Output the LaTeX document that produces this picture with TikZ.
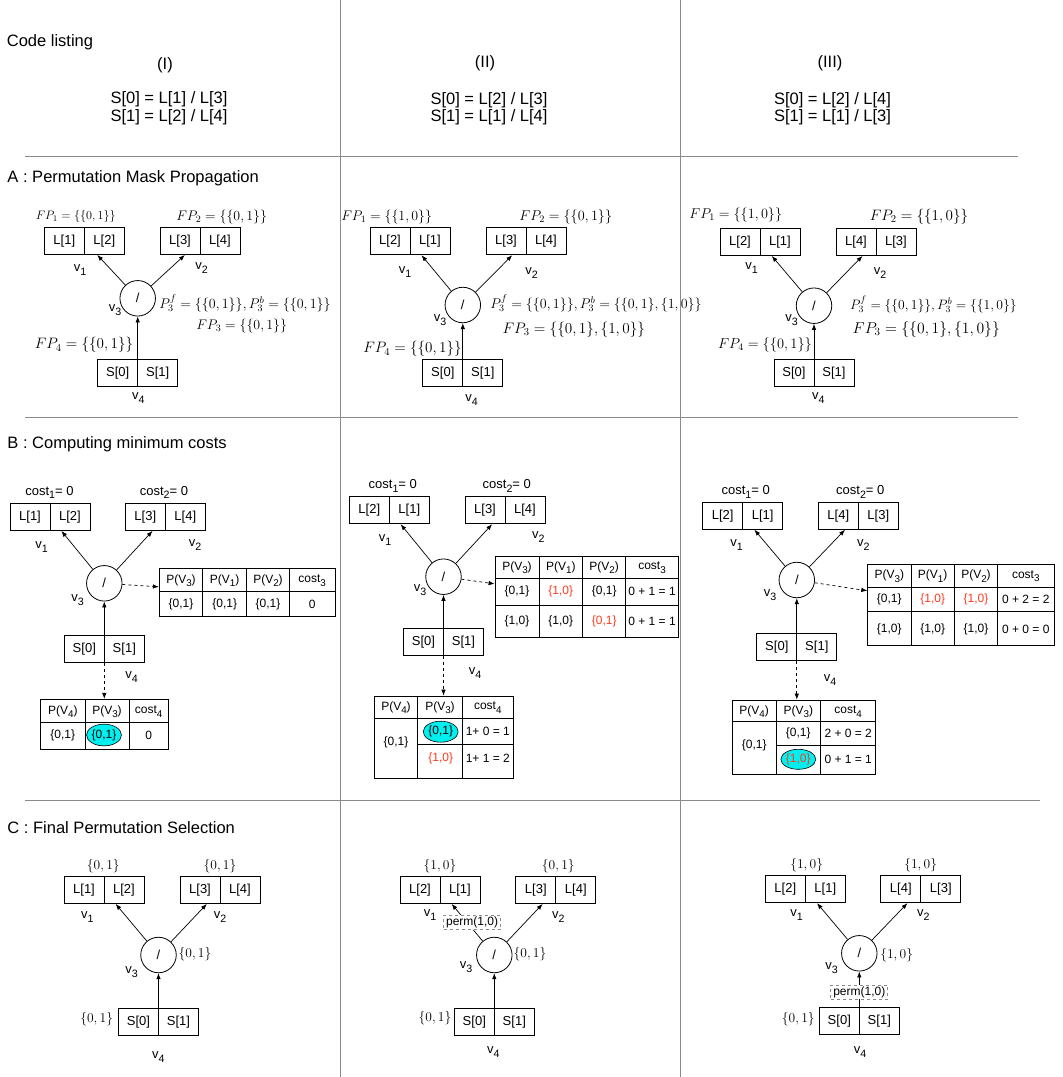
\documentclass[tikz,border=0pt]{standalone}
\usepackage{fix-cm}
\usepackage[no-math]{fontspec}
\setmainfont{Liberation Sans}
\usetikzlibrary{arrows.meta,shapes.geometric}
\definecolor{FrameGray}{HTML}{8A8A8A}
\definecolor{MarkRed}{HTML}{FF3B1F}
\definecolor{PickCyan}{HTML}{00F0F0}
\newcommand{\pair}[2]{\makebox[40pt]{#1}\makebox[40pt]{#2}}
\newcommand{\flip}[1]{\textcolor{MarkRed}{#1}}
\newcommand{\low}[1]{\raisebox{-0.3em}{\scalebox{0.82}{#1}}}
\tikzset{
  rule/.style={FrameGray,line width=0.9pt},
  regbox/.style={draw,line width=0.8pt,inner sep=0pt,minimum height=27pt,
    font=\fontsize{13}{15}\selectfont,
    path picture={\draw[line width=0.8pt] (path picture bounding box.north) -- (path picture bounding box.south);}},
  opnode/.style={circle,draw,line width=0.8pt,minimum size=35.5pt,inner sep=0pt,font=\fontsize{13}{15}\selectfont},
  vlab/.style={font=\fontsize{13}{15}\selectfont,inner sep=0pt},
  mlab/.style={font=\fontsize{#1}{#1}\selectfont,inner sep=0pt},
  code/.style={font=\fontsize{16.5}{17.5}\selectfont,inner sep=0pt},
  title/.style={anchor=west,font=\fontsize{16.5}{19}\selectfont,inner sep=0pt},
  tblframe/.style={draw,line width=0.8pt,inner sep=0pt},
  tblline/.style={line width=0.8pt},
  cell/.style={font=\fontsize{12}{14}\selectfont,inner sep=0pt},
  pick/.style={ellipse,draw,line width=0.6pt,fill=PickCyan,inner sep=0pt,font=\fontsize{12}{14}\selectfont},
  perm/.style={draw=FrameGray,dashed,fill=white,font=\fontsize{12}{14}\selectfont,inner xsep=2.5pt,inner ysep=1.5pt},
  dep/.style={-{Latex[length=6pt,width=4.5pt]},line width=0.7pt}
}
\begin{document}
\begin{tikzpicture}[x=1pt,y=-1pt]
\path[use as bounding box] (0,0) rectangle (1063,1077);
% frame
\draw[rule] (340,0) -- (340,1077);
\draw[rule] (680,0) -- (680,1077);
\draw[rule] (25,156) -- (1018,156);
\draw[rule] (25,417) -- (1018,417);
\draw[rule] (25,800.7) -- (1040,800.7);
% code listing
\node[title] (tcode) at (6.7,42.7) {Code listing};
\node[code] (hI) at (165,65) {(I)};
\node[code] (hII) at (485,63.3) {(II)};
\node[code] (hIII) at (830,63.3) {(III)};
\node[code,align=center] (sI) at (169,108) {S[0] = L[1] / L[3]\\S[1] = L[2] / L[4]};
\node[code,align=center] (sII) at (489,108.7) {S[0] = L[2] / L[3]\\S[1] = L[1] / L[4]};
\node[code,align=center] (sIII) at (832.5,108.7) {S[0] = L[2] / L[4]\\S[1] = L[1] / L[3]};

% A : permutation mask propagation
\node[title] (ta) at (7.3,178.3) {A : Permutation Mask Propagation};
% (I)
\node[regbox] (aIv1) at (84.3,241) {\pair{L[1]}{L[2]}};
\node[regbox] (aIv2) at (200,241) {\pair{L[3]}{L[4]}};
\node[opnode] (aIv3) at (137.7,298.3) {/};
\node[regbox] (aIv4) at (137.7,373) {\pair{S[0]}{S[1]}};
\draw[dep] (aIv3) -- (aIv1);
\draw[dep] (aIv3) -- (aIv2);
\draw[dep] (aIv4) -- (aIv3);
\node[vlab] (aIl1) at (80,270) {v\low{1}};
\node[vlab] (aIl2) at (201.7,268) {v\low{2}};
\node[vlab] (aIl3) at (115,310) {v\low{3}};
\node[vlab] (aIl4) at (138.3,398.3) {v\low{4}};
\node[mlab=12.2] (aIf1) at (75.8,216.7) {$FP_1=\{\{0,1\}\}$};
\node[mlab=13.9] (aIf2) at (221.7,216.7) {$FP_2=\{\{0,1\}\}$};
\node[mlab=14] (aIp3) at (245,303.5) {$P_3^f=\{\{0,1\}\}, P_3^b=\{\{0,1\}\}$};
\node[mlab=13.9] (aIf3) at (241.7,326) {$FP_3=\{\{0,1\}\}$};
\node[mlab=15.1] (aIf4) at (84,345) {$FP_4=\{\{0,1\}\}$};
% (II)
\node[regbox] (aIIv1) at (410,241.3) {\pair{L[2]}{L[1]}};
\node[regbox] (aIIv2) at (526,241.3) {\pair{L[3]}{L[4]}};
\node[opnode] (aIIv3) at (462.8,305) {/};
\node[regbox] (aIIv4) at (462.8,373) {\pair{S[0]}{S[1]}};
\draw[dep] (aIIv3) -- (aIIv1);
\draw[dep] (aIIv3) -- (aIIv2);
\draw[dep] (aIIv4) -- (aIIv3);
\node[vlab] (aIIl1) at (405,271.7) {v\low{1}};
\node[vlab] (aIIl2) at (531.7,273) {v\low{2}};
\node[vlab] (aIIl3) at (440,320) {v\low{3}};
\node[vlab] (aIIl4) at (471.7,400) {v\low{4}};
\node[mlab=13.9] (aIIf1) at (386.7,216.7) {$FP_1=\{\{1,0\}\}$};
\node[mlab=14.2] (aIIf2) at (565.8,216.7) {$FP_2=\{\{0,1\}\}$};
\node[mlab=14] (aIIp3) at (596,303.5) {$P_3^f=\{\{0,1\}\}, P_3^b=\{\{0,1\},\{1,0\}\}$};
\node[mlab=15.2] (aIIf3) at (573.8,329.5) {$FP_3=\{\{0,1\},\{1,0\}\}$};
\node[mlab=15.1] (aIIf4) at (412.5,349) {$FP_4=\{\{0,1\}\}$};
% (III)
\node[regbox] (aIIIv1) at (760,242) {\pair{L[2]}{L[1]}};
\node[regbox] (aIIIv2) at (876,242) {\pair{L[4]}{L[3]}};
\node[opnode] (aIIIv3) at (814,305.7) {/};
\node[regbox] (aIIIv4) at (814,373) {\pair{S[0]}{S[1]}};
\draw[dep] (aIIIv3) -- (aIIIv1);
\draw[dep] (aIIIv3) -- (aIIIv2);
\draw[dep] (aIIIv4) -- (aIIIv3);
\node[vlab] (aIIIl1) at (751.7,268.3) {v\low{1}};
\node[vlab] (aIIIl2) at (880,273.3) {v\low{2}};
\node[vlab] (aIIIl3) at (791.7,320) {v\low{3}};
\node[vlab] (aIIIl4) at (818.3,398.3) {v\low{4}};
\node[mlab=14.2] (aIIIf1) at (735.8,215) {$FP_1=\{\{1,0\}\}$};
\node[mlab=15.1] (aIIIf2) at (919,216.7) {$FP_2=\{\{1,0\}\}$};
\node[mlab=13.6] (aIIIp3) at (933.3,304.5) {$P_3^f=\{\{0,1\}\}, P_3^b=\{\{1,0\}\}$};
\node[mlab=15.7] (aIIIf3) at (926.3,329.5) {$FP_3=\{\{0,1\},\{1,0\}\}$};
\node[mlab=14.4] (aIIIf4) at (765,345) {$FP_4=\{\{0,1\}\}$};

% B : computing minimum costs
\node[title] (tb) at (7.3,444) {B : Computing minimum costs};
% (I)
\node[regbox] (bIv1) at (50,517) {\pair{L[1]}{L[2]}};
\node[regbox] (bIv2) at (165.3,517) {\pair{L[3]}{L[4]}};
\node[opnode] (bIv3) at (104.3,583.3) {/};
\node[regbox] (bIv4) at (104.3,649) {\pair{S[0]}{S[1]}};
\node[vlab] (bIk1) at (49.5,492.5) {cost\low{1}= 0};
\node[vlab] (bIk2) at (164,492.5) {cost\low{2}= 0};
\node[vlab] (bIl1) at (41.7,546.7) {v\low{1}};
\node[vlab] (bIl2) at (195,545) {v\low{2}};
\node[vlab] (bIl3) at (77.7,600) {v\low{3}};
\node[vlab] (bIl4) at (131.7,676.7) {v\low{4}};
\node[tblframe,minimum width=175.7pt,minimum height=48.4pt] (bIt3) at (247.15,592.5) {};
\draw[tblline] (159.3,591.7) -- (335,591.7)
  (202.7,568.3) -- (202.7,616.7) (246.7,568.3) -- (246.7,616.7) (289.3,568.3) -- (289.3,616.7);
\foreach \cx/\cy/\ct [count=\i] in {181/580.5/P(V\low{3}),224.7/580.5/P(V\low{1}),
  268/580.5/P(V\low{2}),312.2/580.5/cost\low{3},181/604.2/{\{0,1\}},
  224.7/604.2/{\{0,1\}},268/604.2/{\{0,1\}},312.2/604.2/0}
  \node[cell] (bIa\i) at (\cx,\cy) {\ct};
\node[tblframe,minimum width=127.6pt,minimum height=49.7pt] (bIt4) at (104.5,724.15) {};
\draw[tblline] (40.7,722.7) -- (168.3,722.7) (85,699.3) -- (85,749) (129,699.3) -- (129,749);
\foreach \cx/\cy/\ct [count=\i] in {62.8/711.5/P(V\low{4}),107/711.5/P(V\low{3}),
  148.7/711.5/cost\low{4},62.8/735.8/{\{0,1\}},148.7/735.8/0}
  \node[cell] (bIb\i) at (\cx,\cy) {\ct};
\node[pick,minimum width=26.7pt,minimum height=21.7pt] (bIsel) at (104,735) {\{0,1\}};
\draw[dep] (bIv3) -- (bIv1);
\draw[dep] (bIv3) -- (bIv2);
\draw[dep] (bIv4) -- (bIv3);
\draw[dep,dashed] (bIv3) -- (bIt3);
\draw[dep,dashed] (bIv4.south) -- (bIv4.south |- bIt4.north);
% (II)
\node[regbox] (bIIv1) at (389.3,510.3) {\pair{L[2]}{L[1]}};
\node[regbox] (bIIv2) at (505,510.3) {\pair{L[3]}{L[4]}};
\node[opnode] (bIIv3) at (443.5,576.7) {/};
\node[regbox] (bIIv4) at (443.5,641.7) {\pair{S[0]}{S[1]}};
\node[vlab] (bIIk1) at (392.8,486) {cost\low{1}= 0};
\node[vlab] (bIIk2) at (506.8,486) {cost\low{2}= 0};
\node[vlab] (bIIl1) at (385,540) {v\low{1}};
\node[vlab] (bIIl2) at (538.3,536.7) {v\low{2}};
\node[vlab] (bIIl3) at (420,590) {v\low{3}};
\node[vlab] (bIIl4) at (475,673.3) {v\low{4}};
\node[tblframe,minimum width=183.3pt,minimum height=81.3pt] (bIIt3) at (586.65,596.65) {};
\draw[tblline] (495,578.3) -- (678.3,578.3) (495,605) -- (678.3,605)
  (539,556) -- (539,637.3) (582.7,556) -- (582.7,637.3) (625.7,556) -- (625.7,637.3);
\foreach \cx/\cy/\ct [count=\i] in {517/567.7/P(V\low{3}),560.8/567.7/P(V\low{1}),
  604.2/567.7/P(V\low{2}),652/567.7/cost\low{3},
  517/591.7/{\{0,1\}},560.8/591.7/\flip{\{1,0\}},604.2/591.7/{\{0,1\}},652/591.7/0 + 1 = 1,
  517/621.5/{\{1,0\}},560.8/621.5/{\{1,0\}},604.2/621.5/\flip{\{0,1\}},652/621.5/0 + 1 = 1}
  \node[cell] (bIIa\i) at (\cx,\cy) {\ct};
\node[tblframe,minimum width=139pt,minimum height=82.3pt] (bIIt4) at (443.8,737.15) {};
\draw[tblline] (374.3,718.3) -- (513.3,718.3) (417.7,744) -- (513.3,744)
  (417.7,696) -- (417.7,778.3) (462.3,696) -- (462.3,778.3);
\foreach \cx/\cy/\ct [count=\i] in {396/707.7/P(V\low{4}),440/707.7/P(V\low{3}),
  487.8/707.7/cost\low{4},396/742.7/{\{0,1\}},487.8/731.7/1+ 0 = 1,
  440.7/758.3/\flip{\{1,0\}},487.8/758.3/1+ 1 = 2}
  \node[cell] (bIIb\i) at (\cx,\cy) {\ct};
\node[pick,minimum width=29.7pt,minimum height=21pt] (bIIsel) at (440.7,731.7) {\{0,1\}};
\draw[dep] (bIIv3) -- (bIIv1);
\draw[dep] (bIIv3) -- (bIIv2);
\draw[dep] (bIIv4) -- (bIIv3);
\draw[dep,dashed] (bIIv3) -- (bIIt3);
\draw[dep,dashed] (bIIv4.south) -- (bIIv4.south |- bIIt4.north);
% (III)
\node[regbox] (bIIIv1) at (742.7,515.8) {\pair{L[2]}{L[1]}};
\node[regbox] (bIIIv2) at (858.3,515.8) {\pair{L[4]}{L[3]}};
\node[opnode] (bIIIv3) at (796.8,580) {/};
\node[regbox] (bIIIv4) at (796.8,647) {\pair{S[0]}{S[1]}};
\node[vlab] (bIIIk1) at (745.7,492) {cost\low{1}= 0};
\node[vlab] (bIIIk2) at (860.3,492) {cost\low{2}= 0};
\node[vlab] (bIIIl1) at (736.7,545) {v\low{1}};
\node[vlab] (bIIIl2) at (863.3,545) {v\low{2}};
\node[vlab] (bIIIl3) at (770,595) {v\low{3}};
\node[vlab] (bIIIl4) at (830,680) {v\low{4}};
\node[tblframe,minimum width=186.3pt,minimum height=81.4pt] (bIIIt3) at (960.85,605) {};
\draw[tblline] (867.7,587.3) -- (1054,587.3) (867.7,611.7) -- (1054,611.7)
  (911,564.3) -- (911,645.7) (954.3,564.3) -- (954.3,645.7) (997.7,564.3) -- (997.7,645.7);
\foreach \cx/\cy/\ct [count=\i] in {889.3/576.3/P(V\low{3}),932.7/576.3/P(V\low{1}),
  976/576.3/P(V\low{2}),1025.8/576.3/cost\low{3},
  889.3/599.3/{\{0,1\}},932.7/599.3/\flip{\{1,0\}},976/599.3/\flip{\{1,0\}},1025.8/599.3/0 + 2 = 2,
  889.3/629.3/{\{1,0\}},932.7/629.3/{\{1,0\}},976/629.3/{\{1,0\}},1025.8/629.3/0 + 0 = 0}
  \node[cell] (bIIIa\i) at (\cx,\cy) {\ct};
\node[tblframe,minimum width=143.4pt,minimum height=74pt] (bIIIt4) at (804,737) {};
\draw[tblline] (732.3,721.7) -- (875.7,721.7) (776,745) -- (875.7,745)
  (776,700) -- (776,774) (820.7,700) -- (820.7,774);
\foreach \cx/\cy/\ct [count=\i] in {754.2/711.5/P(V\low{4}),798.3/711.5/P(V\low{3}),
  848.2/711.5/cost\low{4},754.2/745/{\{0,1\}},798.3/733.3/{\{0,1\}},
  848.2/733.3/2 + 0 = 2,848.2/759.3/0 + 1 = 1}
  \node[cell] (bIIIb\i) at (\cx,\cy) {\ct};
\node[pick,minimum width=30pt,minimum height=20pt] (bIIIsel) at (798.3,759.3) {\flip{\{1,0\}}};
\draw[dep] (bIIIv3) -- (bIIIv1);
\draw[dep] (bIIIv3) -- (bIIIv2);
\draw[dep] (bIIIv4) -- (bIIIv3);
\draw[dep,dashed] (bIIIv3) -- (bIIIt3);
\draw[dep,dashed] (bIIIv4.south) -- (bIIIv4.south |- bIIIt4.north);

% C : final permutation selection
\node[title] (tc) at (7.3,827.3) {C : Final Permutation Selection};
% (I)
\node[regbox] (cIv1) at (104,890) {\pair{L[1]}{L[2]}};
\node[regbox] (cIv2) at (220,890) {\pair{L[3]}{L[4]}};
\node[opnode] (cIv3) at (158.5,955) {/};
\node[regbox] (cIv4) at (158.5,1022) {\pair{S[0]}{S[1]}};
\draw[dep] (cIv3) -- (cIv1);
\draw[dep] (cIv3) -- (cIv2);
\draw[dep] (cIv4) -- (cIv3);
\node[mlab=13.5] (cIm1) at (103.3,866) {$\{0,1\}$};
\node[mlab=13.5] (cIm2) at (220,866) {$\{0,1\}$};
\node[mlab=13.5] (cIm3) at (195,954) {$\{0,1\}$};
\node[mlab=13.5] (cIm4) at (96.7,1019.3) {$\{0,1\}$};
\node[vlab] (cIl1) at (87.3,916.7) {v\low{1}};
\node[vlab] (cIl2) at (220,916.7) {v\low{2}};
\node[vlab] (cIl3) at (131.7,971.7) {v\low{3}};
\node[vlab] (cIl4) at (158.3,1056.7) {v\low{4}};
% (II)
\node[regbox] (cIIv1) at (440,890) {\pair{L[2]}{L[1]}};
\node[regbox] (cIIv2) at (555.8,890) {\pair{L[3]}{L[4]}};
\node[opnode] (cIIv3) at (494.3,955) {/};
\node[regbox] (cIIv4) at (494.3,1022) {\pair{S[0]}{S[1]}};
\draw[dep] (cIIv3) -- node[perm,xshift=5pt] (cIIperm) {perm(1,0)} (cIIv1);
\draw[dep] (cIIv3) -- (cIIv2);
\draw[dep] (cIIv4) -- (cIIv3);
\node[mlab=13.5] (cIIm1) at (440,866) {$\{1,0\}$};
\node[mlab=13.5] (cIIm2) at (558.3,866) {$\{0,1\}$};
\node[mlab=13.5] (cIIm3) at (530,954) {$\{0,1\}$};
\node[mlab=13.5] (cIIm4) at (435,1018.3) {$\{0,1\}$};
\node[vlab] (cIIl1) at (430,915) {v\low{1}};
\node[vlab] (cIIl2) at (558.3,916.7) {v\low{2}};
\node[vlab] (cIIl3) at (466,966.7) {v\low{3}};
\node[vlab] (cIIl4) at (493.3,1051.7) {v\low{4}};
% (III)
\node[regbox] (cIIIv1) at (805.3,889.2) {\pair{L[2]}{L[1]}};
\node[regbox] (cIIIv2) at (920.8,889.2) {\pair{L[4]}{L[3]}};
\node[opnode] (cIIIv3) at (859.3,953.3) {/};
\node[regbox] (cIIIv4) at (859.3,1021.2) {\pair{S[0]}{S[1]}};
\draw[dep] (cIIIv3) -- (cIIIv1);
\draw[dep] (cIIIv3) -- (cIIIv2);
\draw[dep] (cIIIv4) -- node[perm,pos=0.42] (cIIIperm) {perm(1,0)} (cIIIv3);
\node[mlab=13.5] (cIIIm1) at (806.7,865) {$\{1,0\}$};
\node[mlab=13.5] (cIIIm2) at (920.7,865) {$\{1,0\}$};
\node[mlab=13.5] (cIIIm3) at (896.7,955) {$\{1,0\}$};
\node[mlab=13.5] (cIIIm4) at (798.3,1019.3) {$\{0,1\}$};
\node[vlab] (cIIIl1) at (796.7,915) {v\low{1}};
\node[vlab] (cIIIl2) at (923.3,915) {v\low{2}};
\node[vlab] (cIIIl3) at (831.7,968.3) {v\low{3}};
\node[vlab] (cIIIl4) at (860,1051.7) {v\low{4}};
\end{tikzpicture}
\end{document}
